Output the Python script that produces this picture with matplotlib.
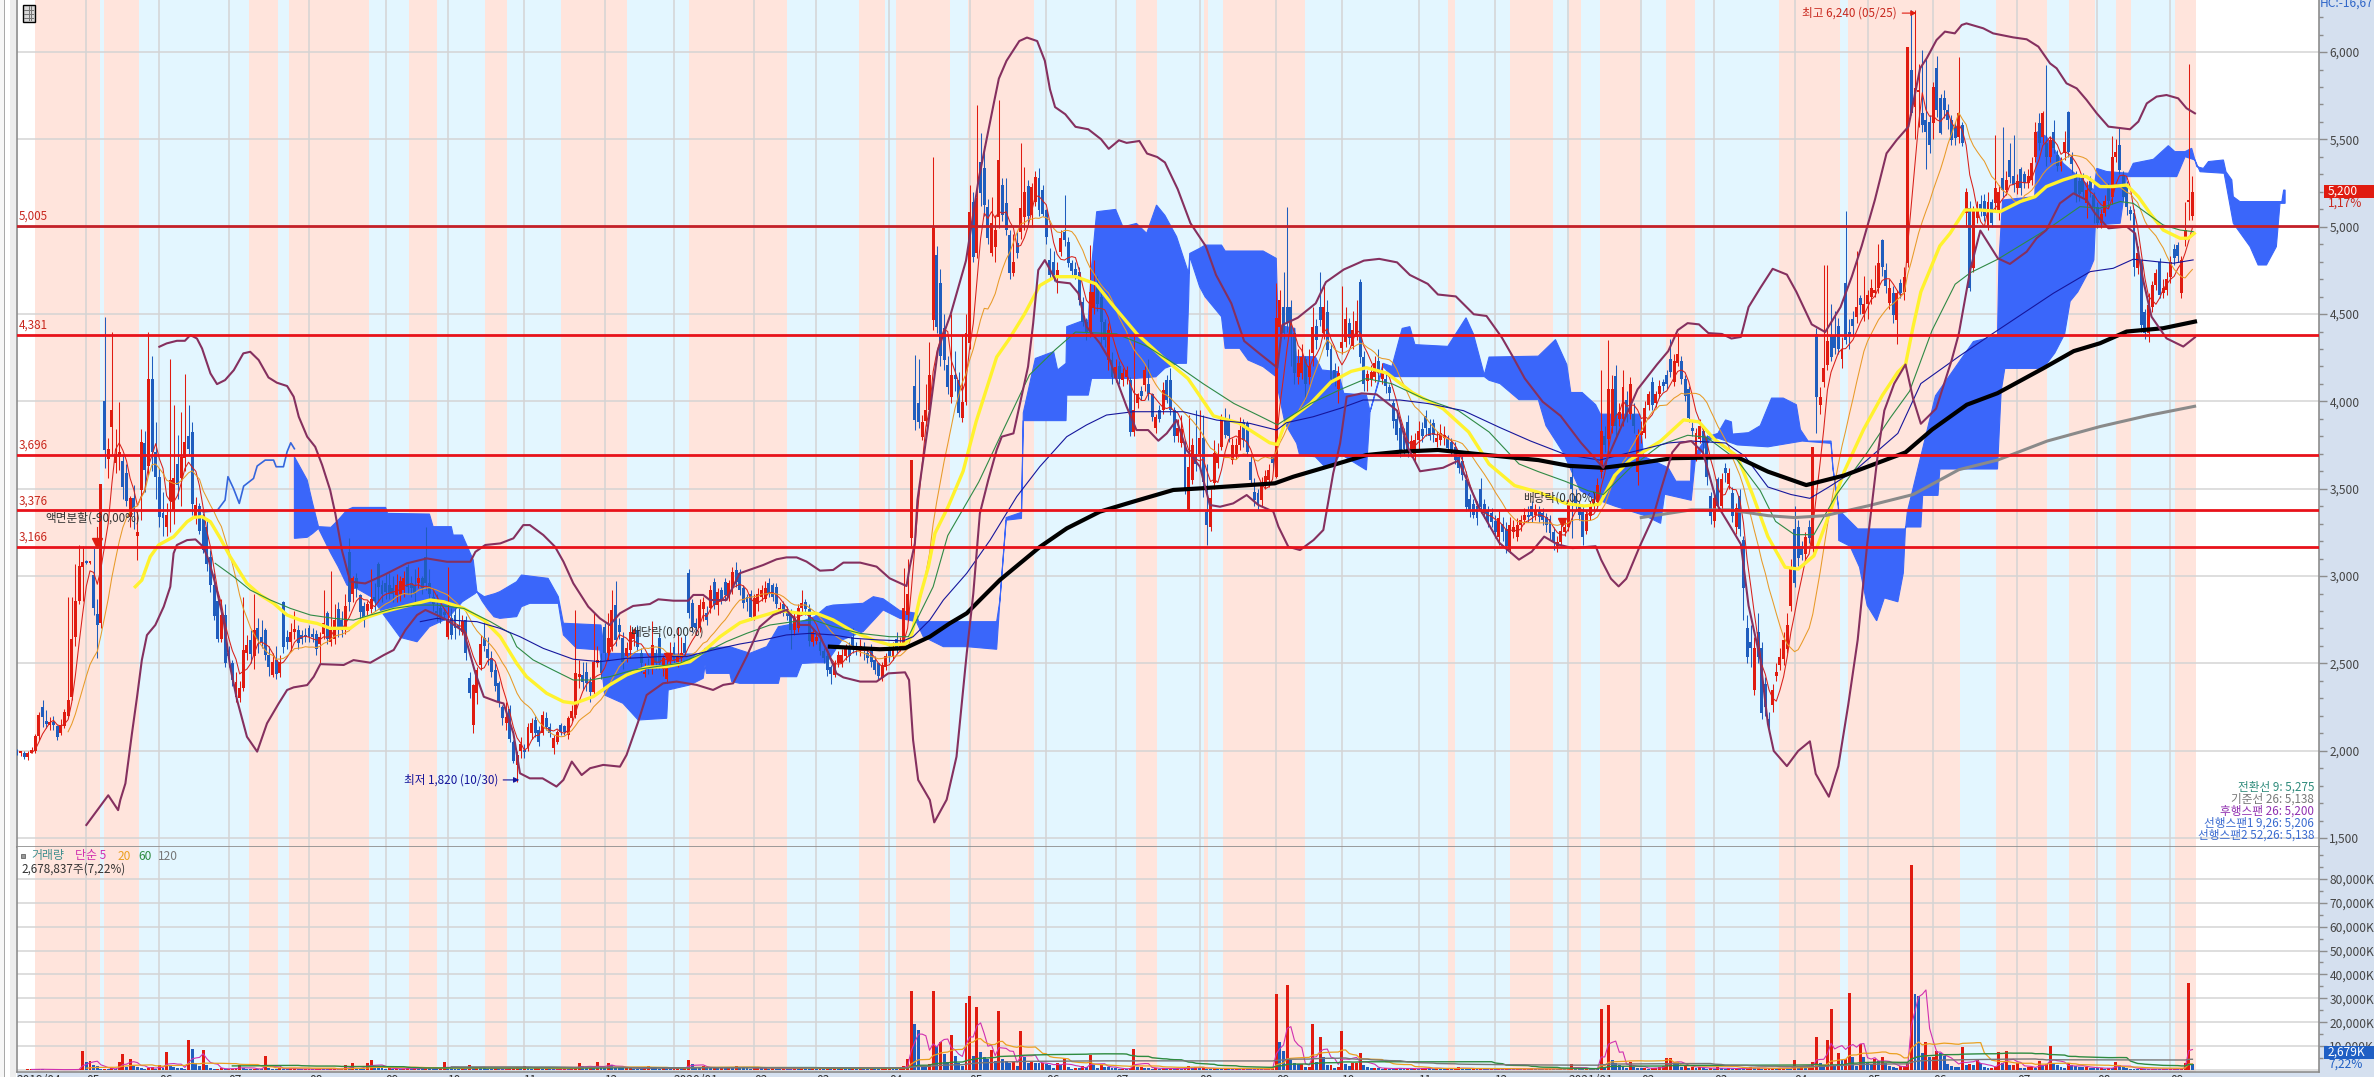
import numpy as np
import matplotlib
matplotlib.use("Agg")
import matplotlib.pyplot as plt
from matplotlib.patches import Rectangle

plt.rcParams['font.family'] = ['Noto Sans CJK KR', 'DejaVu Sans']

# ---- candles (open, close, high, low) per month
apr19 = [(2000,1985,2010,1975),(1985,1990,2000,1970),(1990,1965,2000,1950),(1965,1990,2000,1945),(1990,2005,2020,1985),
(2000,2085,2095,1990),(2085,2205,2220,2060),(2250,2195,2290,2135),(2170,2155,2235,2130),(2150,2165,2195,2120),
(2165,2150,2200,2120),(2140,2080,2150,2060),(2100,2150,2180,2090),(2140,2220,2240,2130),(2200,2290,2880,2190),
(2310,2640,2880,2290),(2650,2860,3070,2600),(2860,3060,3180,2840),(3050,3080,3170,2860)]
may19 = [(3080,3075,3090,3070),(3075,3075,3085,3070),(3005,2815,3160,2780),(2785,2720,2870,2530),(2730,3530,3530,2700),
(4000,3720,4485,3620),(3670,3730,3790,3560),(3855,3950,4395,3700),(3650,3700,3840,3590),(3680,3710,3995,3610),
(3660,3510,3690,3440),(3590,3430,3640,3400),(3340,3445,3460,3280),(3445,3380,3520,3270),(3230,3250,3380,3090),
(3490,3770,3840,3320),(3760,3610,3830,3480),(3630,4130,4395,3580),(4130,3710,4260,3600),(3710,3570,3880,3440)]
jun19 = [(3570,3340,3620,3280),(3360,3330,3480,3230),(3280,3350,3420,3230),(3430,3550,4245,3250),(3380,3560,3980,3300),
(3640,3520,3810,3440),(3560,3680,3940,3400),(3675,3770,4155,3600),(3800,3730,3980,3700),(3825,3415,3880,3350),
(3330,3405,3450,3300),(3400,3260,3420,3240),(3340,3150,3360,3130),(3280,3070,3330,3030),(3110,2950,3150,2910),
(2950,2770,3020,2750),(2860,2640,2900,2620),(2640,2780,2870,2620),(2780,2500,2840,2480)]
jul19 = [(2560,2540,2600,2480),(2500,2405,2520,2370),(2310,2395,2450,2280),(2300,2360,2400,2280),(2360,2575,2880,2340),
(2560,2605,2660,2520),(2635,2555,2690,2500),(2545,2690,2900,2470),(2700,2640,2760,2560),(2650,2620,2750,2590),
(2690,2550,2700,2520),(2550,2480,2600,2430),(2435,2510,2560,2420),(2520,2440,2600,2410),(2445,2510,2550,2420),
(2850,2595,2860,2560),(2650,2620,2690,2580),(2625,2680,2730,2570),(2680,2695,2800,2640),(2690,2615,2720,2580),
(2660,2640,2690,2610),(2660,2650,2700,2620)]
aug19 = [(2700,2650,2720,2620),(2670,2650,2700,2620),(2670,2580,2690,2550),(2610,2650,2680,2500),(2670,2730,2920,2640),
(2790,2640,2800,2610),(2620,2690,3030,2600),(2640,2750,2840,2610),(2810,2690,2850,2650),(2750,2690,2800,2650),
(2700,2830,2900,2670),(3140,2850,3220,2800),(2900,2990,3000,2850),(2990,2930,3020,2880),(2890,2795,2900,2740),
(2830,2760,2850,2710),(2800,2840,2860,2770),(2810,2870,3040,2790),(2880,2860,2960,2800),(3070,2940,3080,2850),
(2950,2900,2980,2850)]
sep19 = [(2960,2910,3010,2870),(2950,2900,3020,2870),(2930,2900,3000,2850),(2890,2950,3010,2850),(2900,2970,3000,2860),
(2920,2990,3030,2880),(3050,2940,3070,2900),(2960,2930,3000,2880),(2950,2900,3040,2850),(2960,2990,3050,2930),
(2990,2930,3000,2900),(3110,2960,3280,2920),(2960,2900,3040,2860),(2880,2840,2930,2800),(2800,2790,2900,2740),
(2815,2760,2840,2730),(2790,2780,2820,2750)]
oct19 = [(2650,2750,3050,2640),(2760,2660,2820,2640),(2780,2700,2820,2640),(2720,2700,2830,2660),(2680,2740,2780,2660),
(2750,2560,2770,2520),(2415,2330,2450,2300),(2150,2375,2380,2100),(2330,2460,2480,2270),(2490,2610,2660,2460),
(2645,2600,2740,2570),(2580,2530,2650,2490),(2530,2450,2570,2420),(2460,2370,2500,2340),(2390,2280,2400,2250),
(2250,2190,2260,2150),(2160,2195,2280,2120),(2240,2070,2260,2050),(2050,1940,2060,1930),(1920,1975,2000,1820),
(2000,2040,2080,1960)]
nov19 = [(2005,1995,2040,1960),(2014,2138,2160,2000),(2100,2157,2190,2070),(2176,2100,2200,2080),(2119,2052,2140,2030),
(2100,2205,2230,2090),(2186,2138,2220,2120),(2138,2100,2160,2080),(2014,2071,2090,1980),(2052,2110,2120,2040),
(2147,2110,2160,2090),(2140,2110,2150,2090),(2090,2186,2200,2070),(2190,2230,2260,2170),(2205,2443,2806,2190),
(2420,2440,2520,2360),(2434,2396,2510,2350),(2453,2386,2510,2340),(2396,2338,2420,2280),(2338,2510,2790,2320),
(2500,2520,2600,2480),(2520,2443,2560,2410)]
dec19 = [(2710,2558,2730,2520),(2558,2644,2790,2520),(2596,2806,2920,2570),(2835,2634,2970,2600),(2720,2682,2760,2640),
(2644,2510,2680,2470),(2540,2590,2620,2510),(2576,2682,2720,2530),(2640,2690,2700,2600),(2690,2596,2720,2570),
(2558,2500,2590,2450),(2440,2450,2500,2420),(2490,2480,2530,2440),(2480,2606,2740,2440),(2558,2500,2580,2470),
(2644,2500,2670,2470),(2470,2530,2550,2430),(2410,2480,2560,2390),(2520,2560,2620,2480)]
jan20 = [(2596,2520,2620,2490),(2510,2540,2710,2480),(2530,2560,2650,2510),(2615,2558,2660,2540),(3016,2787,3040,2760),
(2844,2710,2870,2680),(2730,2700,2760,2660),(2700,2834,2870,2680),(2810,2850,2880,2740),(2790,2750,2830,2720),
(2815,2920,2950,2790),(2968,2835,2990,2810),(2835,2911,2930,2780),(2920,2870,2940,2840),(2968,2892,2990,2860),
(2880,2960,2980,2860),(2930,3025,3050,2900),(3035,2968,3080,2940),(3016,2920,3040,2890),(2930,2844,2950,2820),
(2880,2850,2900,2800),(2900,2767,2920,2750)]
feb20 = [(2767,2873,2900,2750),(2840,2900,2930,2800),(2880,2920,2950,2860),(2870,2930,2970,2850),(2960,2900,2990,2880),
(2950,2880,2960,2860),(2940,2840,2960,2820),(2800,2815,2850,2790),(2840,2790,2860,2770),(2800,2770,2830,2750),
(2790,2690,2810,2580),(2690,2760,2790,2660),(2700,2815,2840,2680),(2815,2845,2920,2790),(2850,2810,2870,2780),
(2810,2630,2840,2600),(2625,2680,2700,2600)]
mar20 = [(2630,2650,2680,2610),(2620,2570,2640,2550),(2570,2530,2590,2500),(2540,2460,2560,2430),(2480,2440,2490,2380),
(2434,2500,2520,2420),(2500,2550,2570,2480),(2500,2548,2580,2480),(2540,2590,2610,2520),(2600,2540,2620,2510),
(2653,2586,2700,2560),(2600,2580,2620,2550),(2570,2600,2640,2540),(2590,2570,2620,2520),(2560,2530,2590,2500),
(2596,2510,2610,2480),(2520,2460,2540,2440),(2500,2430,2510,2410),(2415,2490,2510,2400),(2480,2540,2560,2460)]
apr20 = [(2580,2540,2600,2510),(2540,2590,2620,2520),(2640,2586,2680,2560),(2590,2610,2650,2570),(2596,2815,3044,2580),
(2780,2900,3100,2740),(3216,3665,3665,3170),(4088,3893,4265,3836),(3990,3880,4245,3850),(3794,3884,3920,3780),
(3890,3950,4100,3860),(3950,4151,4340,3930),(4466,4990,5397,4408),(4838,4428,4890,4390),(4680,4260,4760,4200),
(4418,4237,4500,4180),(4208,4084,4260,4040),(4027,4151,4500,3990),(4150,4130,4290,4060),(4122,3932,4170,3910),
(3903,3998,4380,3880),(3998,4389,4500,3980)]
may20 = [(4332,5086,5238,4300),(5143,4828,5200,4800),(4847,5162,5696,4820),(5372,5191,5534,5120),(5334,5124,5460,5060),
(5114,4933,5160,4900),(4847,5019,5170,4830),(4885,4980,5070,4800),(5057,5382,5725,4990),(5239,5067,5280,5030),
(5133,4981,5280,4950),(4952,4733,4980,4700),(4733,4800,4960,4720),(4905,4847,4970,4820),(4971,5105,5477,4930),
(5057,5200,5340,4980),(5235,5060,5270,5010),(5067,5229,5250,5000),(5143,5286,5320,5120),(5277,5095,5335,5060),
(5210,5075,5240,5060)]
jun20 = [(5095,4943,5100,4900),(4809,4723,4880,4700),(4800,4715,4860,4690),(4714,4752,4800,4620),(4857,4933,4980,4830),
(4971,4924,5180,4890),(4914,4790,4940,4770),(4790,4745,4810,4720),(4760,4725,4800,4700),(4742,4580,4770,4550),
(4571,4456,4600,4430),(4456,4390,4480,4350),(4399,4628,4895,4370),(4533,4628,4810,4500),(4675,4560,4720,4520),
(4600,4456,4640,4330),(4456,4350,4470,4310),(4237,4408,4450,4180),(4237,4140,4280,4100)]
jul20 = [(4132,4199,4240,4110),(4200,4130,4230,4100),(4120,4160,4190,4090),(4140,4180,4200,4100),(4122,3827,4140,3800),
(3827,3950,4400,3800),(3990,4040,4050,3960),(4060,4030,4090,4010),(4093,4180,4200,4060),(4100,4040,4240,4010),
(4040,3910,4050,3890),(3846,3912,3930,3820),(3950,3900,3980,3880),(3950,4065,4110,3930),(4120,4010,4150,3990),
(4122,3950,4190,3920),(3950,3800,3970,3770),(3800,3850,3900,3770),(3760,3840,3920,3740),(3769,3493,3780,3470),
(3378,3626,3920,3370),(3550,3750,3790,3530),(3700,3640,3950,3600)]
aug20 = [(3700,3790,3950,3620),(3790,3540,3920,3450),(3369,3292,3640,3180),(3280,3445,3500,3260),(3531,3703,3780,3500),
(3650,3700,3760,3620),(3741,3903,3930,3720),(3903,3807,3960,3790),(3900,3800,3930,3770),(3664,3750,3790,3640),
(3700,3750,3790,3670),(3750,3836,3910,3720),(3880,3780,3900,3740),(3874,3712,3890,3690),(3655,3550,3700,3520),
(3483,3435,3560,3400),(3475,3410,3500,3380),(3435,3531,3570,3400),(3530,3575,3610,3500),(3550,3607,3640,3510),
(3680,3650,3700,3610)]
sep20 = [(3569,4475,4680,3560),(4428,4580,4640,4380),(4542,4389,4740,4360),(4540,4450,5114,4400),(4540,4380,4580,4200),
(4390,4160,4420,4100),(4140,4220,4300,4100),(4160,4256,4330,4130),(4240,4100,4260,4010),(4140,4200,4300,4100),
(4275,4428,4540,4200),(4430,4350,4470,4300),(4542,4466,4740,4430),(4389,4542,4660,4360),(4513,4294,4580,4260),
(4300,4130,4330,4100),(4180,4120,4220,4090),(4070,4160,4200,3990)]
oct20 = [(4304,4342,4660,4270),(4340,4470,4540,4310),(4447,4361,4480,4330),(4320,4410,4520,4300),(4370,4460,4580,4350),
(4685,4256,4700,4220),(4256,4100,4290,4060),(4115,4155,4180,4060),(4120,4170,4210,4090),(4140,4220,4260,4110),
(4230,4160,4300,4130),(4130,4170,4220,4100),(4130,4090,4160,4050),(4080,4050,4100,4010),(3990,3885,4010,3850),
(3900,3810,3940,3780),(3845,3722,3900,3680),(3800,3730,3850,3700),(3880,3722,3920,3680),(3720,3775,3810,3680),
(3700,3780,3820,3660)]
nov20 = [(3780,3830,3890,3730),(3840,3800,3880,3770),(3915,3845,3950,3800),(3850,3800,3900,3780),(3875,3805,3900,3770),
(3770,3790,3830,3740),(3780,3820,3870,3750),(3790,3810,3860,3750),(3785,3735,3810,3710),(3770,3720,3790,3690),
(3740,3665,3770,3640),(3680,3620,3700,3590),(3660,3580,3690,3550),(3550,3395,3600,3370),(3440,3380,3470,3340),
(3410,3350,3440,3330),(3400,3330,3430,3290),(3500,3395,3560,3360),(3410,3360,3440,3330),(3370,3310,3400,3280),
(3360,3310,3390,3280)]
dec20 = [(3314,3252,3350,3220),(3226,3335,3380,3180),(3300,3250,3340,3200),(3270,3171,3310,3130),(3149,3291,3340,3130),
(3250,3280,3320,3220),(3226,3291,3330,3200),(3290,3320,3350,3260),(3320,3350,3390,3300),(3350,3340,3400,3310),
(3400,3345,3430,3310),(3350,3380,3410,3320),(3370,3340,3400,3310),(3360,3320,3390,3290),(3340,3290,3360,3250),
(3324,3248,3350,3210),(3250,3195,3280,3150),(3171,3193,3230,3140),(3193,3258,3290,3170),(3250,3280,3320,3230)]
jan21 = [(3280,3412,3440,3260),(3565,3500,3640,3220),(3456,3401,3500,3370),(3400,3350,3430,3320),(3368,3226,3400,3180),
(3258,3357,3380,3240),(3346,3401,3430,3320),(3400,3440,3480,3380),(3423,3521,3560,3400),(3598,3828,4178,3560),
(3800,3750,3860,3710),(3784,4069,4354,3700),(3860,4069,4150,3820),(4146,3861,4210,3790),(3900,3940,3990,3860),
(3900,4080,4180,3860),(4010,3910,4060,3880),(3927,4102,4140,3900),(3930,3860,3990,3820),(3598,3806,3840,3520)]
feb21 = [(3806,3830,3890,3760),(3817,3960,4000,3790),(3980,4040,4060,3950),(4113,3981,4140,3950),(3990,4040,4060,3970),
(4040,4090,4120,4020),(4110,4090,4130,4060),(4150,4100,4180,4070),(4244,4167,4360,4140),(4113,4233,4270,4090),
(4220,4270,4390,4200),(4230,4130,4260,4100),(4130,4030,4150,4000),(4069,3905,4090,3880),(3850,3830,3880,3800),
(3686,3817,3850,3660),(3784,3861,3900,3760),(3830,3760,3860,3700),(3795,3565,3810,3520),(3456,3346,3480,3300)]
mar21 = [(3313,3445,3490,3280),(3554,3401,3570,3370),(3401,3554,3590,3380),(3620,3590,3650,3540),(3530,3590,3620,3500),
(3478,3346,3510,3310),(3281,3390,3420,3240),(3456,3270,3500,3230),(3204,2930,3230,2750),(2700,2536,2780,2500),
(2620,2590,2720,2480),(2350,2591,2650,2320),(2678,2536,2790,2500),(2591,2218,2620,2180),(2383,2251,2420,2200),
(2180,2150,2220,2100),(2262,2350,2380,2220),(2430,2450,2500,2400),(2492,2536,2590,2460),(2525,2635,2680,2490),
(2580,2722,2790,2560),(2831,3051,3100,2800)]
apr21 = [(3270,2963,3401,2940),(3281,3105,3320,3060),(3170,3120,3200,3090),(3127,3226,3250,3100),(3280,3220,3320,3190),
(3171,3740,3740,3140),(4386,4025,4420,3820),(3980,4025,4080,3930),(4110,4190,4780,4080),(4211,4343,4781,4180),
(4375,4255,4560,4230),(4380,4304,4520,4270),(4430,4300,4480,4270),(4240,4300,4370,4190),(4676,4352,5092,4330),
(4400,4380,4470,4300),(4470,4430,4520,4380),(4485,4543,4860,4450),(4590,4550,4610,4500),(4500,4560,4720,4460)]
may21 = [(4560,4610,4640,4470),(4600,4650,4700,4560),(4620,4640,4780,4600),(4648,4791,4900,4620),(4924,4771,4930,4720),
(4750,4660,4790,4620),(4562,4648,4700,4530),(4619,4495,4660,4450),(4466,4619,4640,4330),(4676,4619,4700,4590),
(4629,4714,4770,4580),(4791,6031,6031,4770),(5899,5649,6240,5640),(5687,5792,6240,5500),(5770,5780,5930,5570),
(5649,5582,6010,5540),(5610,5540,5960,5330),(5602,5468,5640,5420)]
jun21 = [(5592,5802,5830,5500),(5907,5668,5975,5630),(5735,5535,5760,5530),(5735,5670,5780,5620),(5670,5610,5700,5560),
(5611,5497,5640,5470),(5570,5510,5600,5470),(5516,5649,5974,5480),(5582,5478,5600,5460),(5077,5201,5220,5000),
(5106,4648,5150,4630),(4762,5096,5120,4740),(5050,5100,5150,5020),(5130,5100,5180,5060),(5145,5060,5190,5030),
(5000,5144,5200,4980),(5144,5020,5160,5000),(5134,5220,5525,5090),(5077,5201,5240,5040),(5277,5210,5570,5170),
(5210,5270,5320,5180),(5382,5287,5480,5250),(5290,5240,5525,5200)]
jul21 = [(5220,5260,5300,5190),(5330,5220,5340,5180),(5300,5250,5320,5220),(5250,5290,5330,5220),(5268,5363,5400,5240),
(5401,5544,5600,5370),(5592,5477,5650,5440),(5516,5649,5660,5480),(5480,5400,5926,5350),(5401,5497,5520,5370),
(5545,5450,5610,5420),(5410,5345,5440,5320),(5350,5380,5400,5320),(5420,5487,5550,5380),(5659,5430,5665,5400),
(5400,5360,5430,5310),(5290,5190,5320,5140),(5260,5190,5290,5150),(5280,5200,5310,5170),(5134,5210,5260,5050),
(5260,5210,5290,5170),(5180,5115,5200,5020)]
aug21 = [(5115,5020,5140,4990),(5020,5075,5100,4990),(5080,5150,5180,5060),(5230,5150,5250,5110),(5172,5401,5520,5130),
(5400,5430,5500,5370),(5468,5325,5573,5300),(5296,5172,5320,5150),(5230,5115,5260,5070),(5095,5075,5120,5040),
(5077,4772,5100,4720),(4762,4848,4890,4730),(4790,4438,4810,4400),(4510,4390,4530,4360),(4390,4552,4620,4340),
(4543,4667,4690,4510),(4667,4733,4760,4640),(4800,4610,4820,4590),(4620,4650,4700,4590),(4640,4700,4740,4610)]
sep21 = [(4714,4800,4830,4680),(4875,4820,4900,4780),(4895,4830,4910,4800),(4619,4810,4830,4590),(4924,4982,5144,4890),
(5140,5150,5934,5040),(5062,5200,5290,5040)]

# ---- volume (thousand shares), ten sessions per row
volume_k = [
200,150,150,250,400,350,300,250,200,200,
200,150,150,150,200,200,250,300,7900,3200,
3600,2080,1670,300,500,400,700,300,3330,6670,
1200,4580,1600,1400,700,600,700,1400,600,2080,
700,7360,2300,1100,800,700,500,12500,8750,2780,
1800,8330,2080,800,400,500,700,400,500,600,
700,2080,700,500,400,500,400,350,5830,700,
500,450,900,500,400,600,700,300,250,500,
500,300,450,600,500,300,400,550,300,500,
2080,800,2780,900,700,500,3050,4170,1400,1100,
800,500,700,400,550,450,600,700,500,900,
600,450,1100,700,500,400,600,3200,900,700,
500,450,600,400,2080,800,1300,900,700,600,
500,700,450,400,600,800,1000,1300,900,1500,
800,600,700,900,500,600,500,400,450,600,
700,400,500,1200,3000,1500,900,1100,700,3500,
1200,900,2800,2000,1400,800,700,900,1100,600,
500,450,600,1500,900,700,500,800,600,500,
700,900,800,1200,4200,2500,1400,1000,1600,900,
700,1100,800,1200,900,1000,700,1500,1300,900,
800,600,800,1100,700,900,600,800,500,450,
600,500,400,900,700,1200,800,600,900,500,
700,600,800,500,1000,700,900,600,500,800,
500,700,600,400,900,800,500,600,700,1100,
900,700,800,1500,4580,32900,19440,16660,1500,1200,
2500,32900,10000,11800,6660,3470,14580,5830,2780,1670,
28050,30830,5830,26250,7640,5550,4580,8330,3890,24580,
4720,3750,2780,3200,1670,16250,5550,3060,3200,3060,
2780,2780,2500,2220,1000,3060,2080,4440,1390,400,
1000,800,1670,1200,6390,2220,1000,2080,1390,1100,
800,700,300,500,300,1000,8750,1390,1390,1000,
830,600,700,500,800,500,700,400,600,500,
700,1500,800,1100,700,900,600,500,800,600,
500,700,400,300,500,400,600,500,400,300,
500,300,400,600,700,31670,11670,7780,35420,4170,
2780,2360,2360,1390,1390,19170,3470,13750,5280,2220,
2220,700,1390,16250,2360,1670,3060,3060,6940,2220,
1100,830,1000,700,500,800,600,500,900,700,
500,700,400,600,500,800,1000,700,500,900,
600,500,700,400,800,1200,700,500,400,600,
500,700,400,300,500,400,600,300,500,400,
300,600,400,500,300,700,500,400,300,500,
600,400,300,500,400,700,2500,800,500,400,
600,500,400,300,25400,800,27080,4170,3060,2080,
1500,1000,3470,1100,800,700,900,600,800,1000,
1100,1500,4860,4860,3060,2780,1390,1800,1000,1400,
800,1200,700,500,900,600,1100,700,400,800,
500,700,600,400,900,1300,700,800,500,600,
700,900,600,800,1000,700,600,4170,1000,1670,
1100,1300,3200,13750,2780,1390,12500,25400,2080,6940,
4170,4440,32400,5280,1500,10800,5280,2780,2500,4440,
3860,5280,2780,1670,1100,700,1670,1670,2780,85800,
31900,31000,6940,11900,5280,5280,7900,7220,5830,2500,
1670,1390,1100,9580,2080,2500,2080,4170,2780,1100,
700,700,1100,7500,2780,7900,2080,2080,2780,1000,
800,1390,1390,700,3750,2080,2500,10000,2780,2080,
1100,700,2780,2200,1500,1400,1200,1300,900,800,
700,800,600,900,700,3200,2000,1400,900,600,
500,300,500,400,300,500,400,300,600,350,
400,500,300,500,2780,36500,2679]

# ---- indicator lines as (session, price)
bb_upper = [(39,4313),(41,4332),(43.8,4347),(46,4347),(47.5,4380),(49.3,4360),(50.7,4303),(53,4160),(54.8,4099),(57,4122),(59.4,4179),(62,4275),(63.9,4284),(66.2,4237),(68.9,4137),(71.2,4107),(74,4088),(75.8,4027),(77.2,3912),(79.5,3798),(81.7,3740),(83.6,3636),(85.8,3492),(87.2,3359),(89,3149),(91.3,2968),(95.4,2958),(100.5,3006),(106.8,3073),(112.3,3101),(117.8,3082),(124.2,3082),(125.6,3139),(128.3,3178),(132.4,3187),(136,3216),(138.7,3292),(140.5,3292),(144.2,3235),(147.4,3168),(149.7,3083),(152.4,2959),(156.5,2825),(159.7,2758),(162.4,2720),(165.2,2787),(168.8,2829),(173.4,2840),(175.7,2867),(179.8,2859),(183.9,2859),(185.3,2892),(188,2892),(189.8,2863),(194.4,2863),(198,3016),(204.4,3063),(208.1,3096),(210.8,3107),(213.6,3107),(216.3,3083),(220,3031),(223.6,3035),(226.4,3077),(231,3077),(235.5,3054),(239.1,2987),(243.7,2943),(244.6,3054),(246,3188),
(246.7,3436),(249.5,3845),(252.3,4295),(255.8,4499),(260,4806),(263.5,5276),(267.6,5705),(269,5848),(271.1,5950),(274.6,6063),(276.7,6083),(279.5,6063),(281.6,5950),(283,5787),(284.4,5685),(287.2,5644),(290,5572),(293.5,5558),(297,5501),(299.1,5446),(301.9,5495),(304,5480),(307.5,5491),(309.6,5419),(312.4,5399),(314.5,5368),(318,5215),(321.5,5020),(325.7,4888),(328.5,4724),(332.7,4561),(336.2,4346),(340.4,4274),(345.3,4193),(346.7,4438),(350.9,4479),(355.8,4561),(358.6,4683),(363.5,4755),(369,4806),(373.2,4816),(378.1,4796),(381.6,4724),(386.5,4673),(389.3,4612),(394.2,4601),(399.1,4499),(402.6,4489),(406.8,4366),(409.6,4264),(413.1,4131),(418,3998),(422.9,3917),(428.5,3763),(434.6,3620),(444,4069),(449.3,4211),(452.4,4288),(455,4408),(457.7,4448),(460.8,4441),(463.4,4391),(467.1,4386),(469.7,4360),(472.3,4369),(474.4,4540),(477.6,4649),(481,4759),(484.9,4726),(487.5,4627),(491.7,4441),(495.4,4397),(499.6,4540),(502.7,4715),(505.4,4890),(509,5153),(512.2,5420),(515,5497),(518.2,5573),(521.4,5907),(523.2,5964),(525.9,6069),(528.2,6117),(530.9,6107),(532.8,6155),(534.1,6164),(538.7,6136),(541.4,6107),(546.9,6084),(550.6,6073),(553.8,6031),(557,5935),(558.8,5907),(561.5,5821),(564.3,5792),(567,5726),(569.8,5649),(573,5573),(578.9,5558),(581.2,5602),(583.5,5706),(586.2,5745),(588.9,5754),(592.1,5735),(594.4,5678),(596.7,5649)]
bb_lower = [(19,1575),(22,1660),(25,1745),(27.7,1660),(28.3,1718),(29.7,1813),(31.5,2100),(32.9,2310),(34.2,2519),(35.6,2662),(37.9,2720),(40.2,2825),(42,2939),(42.9,3130),(43.8,3178),(46.6,3206),(48.9,3210),(51,3168),(52.5,3092),(54.3,2958),(56.6,2748),(58.4,2481),(60.3,2290),(63,2080),(65.8,1995),(68.5,2157),(71.7,2271),(74,2348),(75.8,2363),(79.5,2376),(81.3,2424),(83.1,2496),(89.5,2491),(92.2,2519),(96.8,2504),(100.5,2548),(103.2,2577),(106.4,2691),(109.6,2777),(111.9,2806),(115,2777),(117.8,2748),(122.4,2682),(125.6,2443),(127.9,2309),(131.5,2281),(133.3,2271),(136,2100),(137.8,1871),(140.5,1842),(144,1842),(147.8,1795),(149.7,1833),(152,1938),(154.7,1861),(157,1900),(160.6,1919),(165.2,1909),(167,1976),(170.2,2167),(172.5,2319),(177,2386),(180.7,2396),(186.2,2377),(190.7,2348),(193.5,2377),(196.2,2386),(199.9,2539),(203.5,2710),(207.2,2777),(210.8,2806),(214.5,2720),(217.2,2720),(220,2653),(222.3,2558),(224.5,2443),(226.4,2420),(231,2396),(235.5,2396),(238.7,2443),(243.3,2449),(244.4,2405),(245.5,2062),(246.9,1833),(250.1,1718),(251.3,1590),(254.7,1720),(257.4,1966),(260.2,2558),(262,2900),(263.8,3359),(266.1,3550),(268.4,3722),(269.8,3798),(273,3817),(274.8,3989),(277,4199),(278.4,4447),(279.8,4752),(281.6,4809),(284.8,4685),(288.5,4676),(290.8,4618),(293,4428),(296.7,4332),(299.4,4237),(301.3,4122),(304,3970),(306.7,3836),(309.9,3836),(312.7,3775),(315,3817),(317.7,3893),(320.4,3722),(324.1,3626),(326.8,3407),(329.6,3397),(333.2,3416),(336.9,3464),(340.1,3407),(344.2,3369),(345.6,3283),(348.3,3168),(351.5,3149),(355.2,3206),(357.9,3264),(360.6,3588),(362.5,3760),(364.3,4027),(368.4,4046),(372.5,4040),(378.1,3947),(380.9,3743),(384.4,3600),(390.7,3620),(394.9,3661),(400.5,3395),(406.1,3191),(411.5,3094),(415,3140),(418.4,3226),(422,3182),(426.2,3160),(432.5,3171),(434,3094),(436.7,2985),(438.8,2941),(440.9,2985),(444.6,3171),(448.2,3335),(450.3,3489),(453.5,3708),(455.6,3762),(458.7,3773),(461.9,3708),(466,3401),(469.2,3291),(472.3,3182),(474.4,2831),(477.6,2525),(479.7,2153),(481.3,1999),(484.9,1912),(488,1999),(491.2,2054),(492.8,1868),(496.4,1737),(499,1912),(501.7,2262),(504.3,2635),(506.9,3182),(510,3730),(511.6,3948),(514.3,4102),(517.4,4211),(519.5,4014),(521.6,3872),(525.8,3959),(530,4233),(532,4387),(535.2,4759),(537.9,4978),(542.7,4819),(546,4787),(550.6,4857),(553.3,4934),(556,4981),(559.7,5134),(563.4,5191),(567,5153),(569.3,5077),(573,4991),(578,5001),(580.3,4962),(582.5,4695),(584.8,4485),(588.9,4361),(593.5,4314),(596.7,4367)]
ma_yellow = [(32.4,2939),(34.2,2977),(36.5,3111),(38.8,3178),(42.9,3225),(46.6,3311),(48.4,3336),(50.7,3340),(53,3311),(55.7,3216),(58.4,3111),(63,2958),(66.7,2891),(70.3,2844),(74,2777),(77.6,2748),(82.2,2729),(85.8,2701),(91.3,2701),(95,2758),(100.5,2796),(105.9,2825),(113.2,2863),(116.9,2853),(122.4,2815),(127.9,2748),(132.4,2653),(136.9,2500),(139.6,2424),(145.1,2329),(149.7,2281),(152.8,2272),(157.9,2310),(162.4,2377),(167,2434),(172.5,2478),(178,2482),(184.4,2510),(188,2567),(192.6,2653),(198.1,2733),(203.5,2768),(209,2802),(214.5,2787),(219,2787),(223.6,2749),(229.1,2682),(234.6,2634),(239.1,2606),(243.3,2611),(245,2653),(247.4,2882),(249.7,3054),(251.5,3245),(255.1,3397),(259.2,3600),(262.8,3886),(268.4,4254),(271.8,4356),(276,4499),(280.2,4663),(284.4,4714),(290,4714),(295.6,4673),(299.8,4561),(306.8,4387),(313.8,4254),(320.8,4131),(327.8,3917),(334.8,3876),(343.2,3763),(345.3,3753),(347.4,3876),(354.4,3988),(360,4111),(365.5,4172),(369.7,4193),(375.3,4162),(382.3,4050),(390.7,3958),(397.7,3825),(403.3,3641),(410.3,3518),(417.3,3477),(424.3,3416),(429.4,3401),(433.6,3412),(437.7,3576),(441.9,3664),(450.3,3773),(456.6,3894),(460.8,3883),(465,3784),(471.3,3686),(475.5,3467),(479.7,3226),(484.4,3051),(488,3040),(492.3,3116),(495.4,3291),(500.6,3598),(505.9,3839),(511.1,4036),(515.3,4168),(517.4,4211),(519.5,4430),(521.6,4627),(526.8,4890),(529.6,4962),(533.7,5096),(537.8,5096),(543.3,5086),(548.8,5144),(552.9,5172),(556,5230),(560.6,5268),(564.3,5292),(567,5287),(570.7,5230),(574.3,5230),(578,5239),(581.2,5172),(584.4,5077),(588,4981),(592.6,4934),(594.9,4934),(596.5,4962)]
ma_green = [(54.3,3073),(59.4,2996),(63.9,2920),(69.4,2863),(74.9,2815),(80.4,2777),(86.8,2758),(92.2,2748),(96.8,2777),(103.2,2815),(109.6,2834),(115,2834),(122.4,2815),(129.7,2739),(135.2,2672),(136.9,2596),(141.4,2520),(146.9,2462),(152.4,2405),(157,2405),(162.4,2424),(168.8,2462),(175.2,2482),(181.6,2501),(188.9,2567),(194.4,2625),(199.9,2672),(206.3,2720),(212.7,2739),(218.1,2749),(223.6,2711),(231,2672),(239.1,2653),(244.2,2653),(246.5,2749),(251,2939),(255,3232),(263.5,3539),(270.4,3845),(277.4,4152),(284.4,4295),(290,4397),(301.2,4387),(309.6,4315),(317.3,4213),(325,4101),(333.4,3988),(340.4,3917),(345.3,3866),(354.4,3988),(362.8,4070),(369.7,4131),(376.7,4101),(385.1,4019),(394.9,3947),(403.3,3825),(411.5,3642),(416.8,3598),(424.1,3543),(430.4,3489),(434.6,3467),(442,3620),(450.3,3751),(457.7,3806),(462.9,3795),(471.3,3664),(477.6,3489),(481.8,3313),(487,3237),(492.3,3237),(498.5,3467),(506.9,3708),(513.2,3905),(518.5,4058),(524.7,4408),(531,4671),(535.2,4737),(542.6,4813),(557.2,4999),(565.2,5115),(570.7,5106),(576.2,5144),(579.8,5134),(583.5,5077),(588,5010),(592.6,4981),(596.2,4972)]
ma_navy = [(110.5,2739),(115,2758),(118.7,2748),(126,2739),(132.3,2701),(137.8,2653),(144.2,2586),(152.4,2524),(159.7,2510),(167,2529),(176.1,2539),(183.4,2539),(190.7,2577),(198,2611),(204.4,2634),(210.8,2663),(217.2,2672),(223.6,2663),(229.1,2644),(236.4,2634),(242.8,2629),(245.5,2653),(250.1,2749),(253.8,2863),(260.2,3016),(266.6,3206),(273.9,3455),(280.2,3626),(287.6,3798),(293,3865),(298.5,3922),(305.8,3941),(313.1,3941),(319.5,3941),(328.7,3893),(337.8,3874),(345.1,3836),(347.8,3878),(355.1,3912),(362.5,3960),(368.8,4008),(378.9,4008),(386.5,3988),(396.3,3947),(406.3,3850),(414.7,3773),(424.1,3697),(433.6,3664),(442,3708),(452.4,3762),(458.7,3773),(468.1,3762),(473.4,3686),(479.7,3510),(486,3467),(491.2,3445),(496.4,3510),(503.8,3609),(515.3,3817),(521.6,4102),(532.2,4260),(541.4,4390),(557.9,4619),(568,4743),(574.3,4762),(579.8,4814),(586.2,4800),(590.8,4791),(596.2,4810)]
ma_black = [(222.7,2596),(236.4,2581),(243.3,2587),(250.1,2653),(255.6,2730),(260.2,2787),(263.8,2863),(269.3,2978),(280.3,3168),(287.6,3273),(296.7,3369),(305.8,3426),(316.8,3493),(324.1,3502),(344.6,3531),(349.7,3569),(360.6,3636),(369.7,3693),(378.9,3712),(389.3,3722),(403.3,3692),(416.8,3664),(425.2,3631),(434.6,3620),(443,3642),(453.5,3675),(471.3,3681),(479.7,3598),(490.2,3521),(500.6,3576),(517.4,3708),(524.7,3839),(534.2,3981),(542.6,4047),(555.1,4189),(563.5,4288),(570.7,4333),(578,4400),(588,4419),(596.7,4457)]
ma_grey = [(445,3335),(458.7,3379),(469.2,3379),(479.7,3346),(487,3335),(495.4,3346),(506.9,3401),(519.5,3467),(532,3609),(542.6,3664),(556.2,3773),(570.7,3856),(584,3920),(596.6,3972)]

# thin lagging part in front of the first cloud
lag_line = [(51,3368),(54.8,3374),(57,3435),(57.8,3569),(59.3,3502),(60.9,3416),(62.1,3515),(64.8,3559),(65.8,3630),(68,3664),(70.3,3664),(71,3626),(73,3626),(74,3712),(75,3763),(76,3729)]

cloud_top = [(76,3683),(79.5,3550),(81,3416),(82.6,3283),(86,3279),(88,3321),(90.4,3378),(92,3393),(101,3393),(101.5,3359),(113,3355),(114,3283),(119,3283),(119.5,3235),(122,3235),(125,3092),(126,2910),(128,2882),(131,2900),(132.3,2911),(136.9,2968),(138.2,3006),(145.5,2987),(148.3,2882),(149.7,2730),(160,2720),(161,2558),(178,2554),(188,2554),(188.5,2586),(195.3,2596),(198,2577),(200.8,2558),(205.4,2596),(208.6,2710),(213.6,2730),(218.6,2768),(221.8,2825),(223.6,2834),(231.8,2844),(234.6,2882),(237.3,2870),(241.9,2802),(246.4,2787),(247,2739),(268.4,2739),(269.3,2863),(271,3335),(275.2,3365),(275.7,3935),(279,4246),(284,4285),(285.1,4180),(287.4,4218),(287.6,4428),(291.2,4456),(293.5,4466),(294.4,4771),(295.8,5086),(301,5099),(303,4999),(306.7,5019),(309.5,4962),(312.2,5124),(314.5,5065),(317.7,4943),(320.4,4771),(321,4733),(321.3,4847),(324,4876),(325.5,4895),(330,4895),(331,4861),(341.4,4861),(345,4819),(345.5,4437),(350.1,4418),(350.5,4256),(355.7,4256),(357.5,4180),(362,4170),(363.5,4046),(369.7,4036),(370.7,3941),(374.3,4218),(376.7,4200),(379.5,4418),(381.6,4428),(383,4325),(392,4315),(397,4479),(399,4387),(402,4152),(403.3,4254),(406.3,4255),(416.8,4259),(421.5,4354),(424.6,4211),(425.7,4051),(428.8,4051),(432.5,3981),(433.8,3927),(444.6,3927),(445.6,3686),(452.4,3620),(454.5,3543),(458.5,3543),(458.7,3664),(462.9,3795),(466,3817),(468.1,3894),(469.7,3883),(470,3813),(474.4,3821),(477.6,3861),(480.7,4019),(483.9,4019),(487.5,3981),(488.6,3839),(490.7,3773),(497,3773),(497.5,3620),(499,3401),(499.1,3379),(504.3,3270),(517.4,3270),(517.9,3368),(521.6,3686),(525.6,4032),(536,4343),(542.6,4376),(543,4803),(544,5153),(552.8,5172),(553.5,5544),(556,5516),(560.6,5363),(569,5210),(569.8,5334),(572.5,5316),(578.5,5306),(579.8,5363),(585.3,5386),(589.4,5464),(591.2,5430),(594,5430),(595.8,5449),(597.2,5344),(599,5334),(600.4,5373),(604.5,5382),(605.2,5315),(606.8,5268),(607.2,5172),(609,5144),(620.5,5144),(621,5210),(621.4,5210)]
cloud_bottom = [(76,3216),(79.5,3222),(81,3244),(82.6,3273),(86,3130),(88,3054),(90.4,2949),(92,2930),(93,2930),(97,2882),(100.5,2777),(105,2649),(109.6,2624),(113,2710),(118,2758),(122,2853),(125.5,2900),(126,2910),(127.5,2855),(129,2810),(130.7,2767),(132.3,2758),(136.9,2768),(138.2,2825),(140.5,2844),(148.3,2844),(149.7,2663),(153.3,2587),(159.7,2577),(161,2319),(166,2272),(170.2,2176),(178,2186),(178.4,2348),(184.4,2377),(188,2415),(188.5,2491),(188.9,2443),(195.3,2443),(195.8,2396),(198,2386),(208.6,2386),(209,2424),(213.6,2424),(215,2500),(218.6,2504),(221.8,2504),(223.6,2558),(226,2634),(231.8,2682),(237.3,2806),(241.9,2758),(246.4,2739),(248.3,2653),(253.8,2596),(260.2,2596),(268.4,2581),(269.3,2863),(271,3320),(275.2,3330),(275.7,3890),(287.4,3890),(287.6,4036),(293.5,4036),(294.4,4132),(306.7,4132),(312,4141),(314.5,4190),(318,4218),(320.4,4218),(321,4580),(321.3,4830),(324,4657),(325.5,4599),(330,4485),(331,4304),(335,4304),(337.3,4237),(341.4,4199),(345,4141),(345.5,4065),(347.4,3874),(350.6,3760),(351.4,3693),(355.7,3683),(358.3,3626),(360.6,3626),(362.5,3700),(369.7,3607),(370.7,3941),(374.3,4200),(376.7,4142),(379.5,4142),(402,4142),(403.3,4121),(406.3,4102),(411.5,4010),(416.8,4010),(418.9,3861),(423.6,3708),(428.3,3489),(432,3445),(437.7,3401),(446,3346),(450.3,3302),(451.4,3469),(458.7,3434),(459.8,3664),(464,3784),(466,3790),(471.3,3751),(479.7,3740),(489.1,3773),(497,3760),(497.5,3620),(499,3401),(499.1,3204),(502.2,3171),(504.8,3051),(506.9,2832),(509.5,2744),(511.6,2875),(515.3,2853),(516.8,3018),(517.4,3281),(521.6,3281),(522.1,3462),(526.3,3462),(526.8,3613),(542.6,3613),(543.6,4058),(544.6,4189),(555.1,4189),(558.3,4277),(561,4386),(562.5,4573),(564.6,4627),(568,4759),(569,4810),(569.4,5010),(576.2,5020),(578,5287),(591.7,5287),(594,5401),(596.7,5382),(598.1,5315),(604.7,5306),(607.2,5020),(611.8,4886),(614,4781),(616.3,4781),(619,4886),(620,5134),(621.4,5134)]

# ---- background sessions (rising phases over the pale blue span)
span_start, span_end = 4.9, 597
pink_start = [4.9,23.8,63.6,74.5,107.4,128.2,149,184.1,230.7,240.8,260.5,306.6,325.2,330.4,392,409,425.2,433.7,451.8,482.7,501.6,542.2,562.2,575.1,591.2]
pink_end = [22.7,33.4,71.5,96.4,115.1,134.2,167.1,211,237.8,255.6,278.6,312.3,326.3,352.9,394,420.8,428.5,444.7,459.7,499.5,532.3,556.2,569.3,579.2,597]

month_sessions = [0,19,39,58,80,101,118,139,161,180,202,219,239,261,282,301,324,345,363,384,405,425,445,465,487,507,525,548,570,590]
month_labels = ['2019/04','05','06','07','08','09','10','11','12','2020/01','02','03','04','05','06','07','08','09','10','11','12','2021/01','02','03','04','05','06','07','08','09']
levels = [5005,4381,3696,3376,3166]
level_labels = ['5,005','4,381','3,696','3,376','3,166']

W, H = 2374, 1077
RED, BLUE = '#E01B10', '#1F5DBE'
GRID = '#D4D4D4'
PANEL = '#D5E0EF'
fig = plt.figure(figsize=(W/100, H/100), dpi=100, facecolor='white')

def box(x0, y0, x1, y1, **kw):
    fig.add_artist(Rectangle((x0/W, 1-y1/H), (x1-x0)/W, (y1-y0)/H, transform=fig.transFigure, **kw))

def ftext(x, y, s, **kw):
    kw.setdefault('va', 'center')
    fig.text(x/W, 1-y/H, s, **kw)

def knots(pairs):
    return np.array(pairs, float).T

box(0, 0, 4, H, fc='#F6F6F6', ec='none', zorder=-2)
box(4, 0, 5, H, fc='#A8A8A8', ec='none', zorder=-2)
box(10, 0, 16, H, fc='#EDEDED', ec='none', zorder=-2)
box(2319, 0, W, H, fc=PANEL, ec='none', zorder=-2)
box(17, 1072, W, H, fc=PANEL, ec='none', zorder=-2)

ax = fig.add_axes([17/W, 1-847/H, 2302/W, 847/H])
vax = fig.add_axes([17/W, 1-1072/H, 2302/W, 225/H])
XMAX = 2302/3.65
ax.set_xlim(0, XMAX); vax.set_xlim(0, XMAX)
ax.set_ylim(1449, 6298); vax.set_ylim(-833, 93333)

candles = np.array(apr19+may19+jun19+jul19+aug19+sep19+oct19+nov19+dec19+jan20+feb20+mar20+apr20+may20+jun20+jul20+aug20+sep20+oct20+nov20+dec20+jan21+feb21+mar21+apr21+may21+jun21+jul21+aug21+sep21, float)
opens, closes, highs, lows = candles.T
x = np.arange(len(opens))

def sma(values, n):
    return np.arange(n-1, len(values)), np.convolve(values, np.ones(n)/n, 'valid')

for a in (ax, vax):
    a.axvspan(span_start, span_end, fc='#E3F6FF', ec='none', zorder=0)
    for s0, s1 in zip(pink_start, pink_end):
        a.axvspan(s0, s1, fc='#FFE4DC', ec='none', zorder=0.1)
    for m in month_sessions[1:]:
        a.axvline(m, color=GRID, lw=1.1, zorder=1)
    for sp in a.spines.values():
        sp.set_color('#8C8C8C'); sp.set_linewidth(1.2)
    a.spines['top'].set_visible(False)
    a.yaxis.tick_right()
    a.tick_params(axis='y', which='major', length=6, width=1, color='#8C8C8C', labelcolor='#444444', labelsize=8.6, pad=1.5)
    a.tick_params(axis='y', which='minor', length=3, width=1, color='#8C8C8C')

price_ticks = np.arange(1500, 6001, 500)
ax.set_yticks(price_ticks)
ax.set_yticklabels([f'{p:,}' for p in price_ticks])
ax.set_yticks(np.arange(1500, 6201, 100), minor=True)
for p in price_ticks:
    ax.axhline(p, color=GRID, lw=1.1, zorder=1)
ax.set_xticks([])

vol_ticks = np.arange(10000, 80001, 10000)
vax.set_yticks(vol_ticks)
vax.set_yticklabels([f'{v:,}K' for v in vol_ticks])
vax.set_yticks(np.arange(5000, 90001, 5000), minor=True)
for v in vol_ticks:
    vax.axhline(v, color=GRID, lw=1.1, zorder=1)
vax.axhline(0, color=GRID, lw=1.1, zorder=1)
vax.set_xticks(month_sessions)
vax.set_xticklabels(month_labels, ha='left', fontsize=8.6, color='#333333')
vax.tick_params(axis='x', length=0, pad=1.5)

# cloud
ts, tp = knots(cloud_top)
bs, bp = knots(cloud_bottom)
ax.fill(np.r_[ts, bs[::-1]], np.r_[tp, bp[::-1]], fc='#3A66FA', ec='#3A66FA', lw=0.8, zorder=2)
ax.plot(*knots(lag_line), color='#3566DC', lw=1.2, zorder=2)

# candles
up = closes >= opens
colors = np.where(up, RED, BLUE)
ax.vlines(x, lows, highs, colors=colors, lw=0.75, zorder=3)
heights = np.maximum(np.abs(closes-opens), 12)
ax.bar(x, heights, bottom=np.minimum(opens, closes), width=0.8, color=colors, lw=0, zorder=3)

# moving averages and bands
ax.plot(*sma(closes, 5), color='#D8201A', lw=0.75, zorder=4)
ax.plot(*sma(closes, 15), color='#E89A28', lw=0.75, zorder=4)
ax.plot(*knots(ma_yellow), color='#FFF22E', lw=2.4, zorder=4)
ax.plot(*knots(ma_green), color='#2F8A45', lw=0.8, zorder=4)
ax.plot(*knots(ma_navy), color='#16169C', lw=0.8, zorder=4)
ax.plot(*knots(ma_grey), color='#8A8A8A', lw=2.2, zorder=4)
ax.plot(*knots(ma_black), color='#000000', lw=3.0, zorder=4.2)
ax.plot(*knots(bb_upper), color='#85305F', lw=1.5, zorder=4.5)
ax.plot(*knots(bb_lower), color='#85305F', lw=1.5, zorder=4.5)

# horizontal levels
for lv, lab in zip(levels, level_labels):
    col = '#C42028' if lv == 5005 else '#E8121A'
    ax.axhline(lv, color=col, lw=2.0, zorder=5)
    ax.annotate(lab, (0, lv), xytext=(1.5, 2.2), textcoords='offset points', color='#C8281E', fontsize=8.4, va='bottom', zorder=6)

# annotations
TXT = '#333333'
ax.text(7.9, 3333, '액면분할(-90,00%)', color=TXT, fontsize=8.4, va='center', zorder=6)
ax.plot([22, 22], [3187, 3281], color=RED, lw=0.8, zorder=6)
ax.plot([22], [3187], marker='v', ms=7, color=RED, zorder=6)
ax.text(168, 2680, '배당락(0,00%)', color=TXT, fontsize=8.4, va='center', zorder=6)
ax.plot([178.4], [2537], marker='v', ms=6, color=RED, zorder=6)
ax.text(412.6, 3447, '배당락(0,00%)', color=TXT, fontsize=8.4, va='center', zorder=6)
ax.plot([423.3], [3310], marker='v', ms=6, color=RED, zorder=6)
ax.text(131.8, 1833, '최저 1,820 (10/30)', color='#14149A', fontsize=8.4, va='center', ha='right', zorder=6)
ax.annotate('', xy=(137.6, 1833), xytext=(133.2, 1833), arrowprops=dict(arrowstyle='-|>', color='#14149A', lw=0.8, shrinkA=0, shrinkB=0, mutation_scale=8), zorder=6)
ax.text(515, 6223, '최고 6,240 (05/25)', color='#C8281E', fontsize=8.4, va='center', ha='right', zorder=6)
ax.annotate('', xy=(520.4, 6223), xytext=(516.5, 6223), arrowprops=dict(arrowstyle='-|>', color=RED, lw=0.8, shrinkA=0, shrinkB=0, mutation_scale=8), zorder=6)

# ichimoku legend
legend_rows = [('전환선 9: 5,275', '#2E8B7B', 787), ('기준선 26: 5,138', '#777777', 799), ('후행스팬 26: 5,200', '#9030B0', 811),
               ('선행스팬1 9,26: 5,206', '#3A6BD0', 823), ('선행스팬2 52,26: 5,138', '#3A6BD0', 835)]
for s, c, yy in legend_rows:
    ftext(2314, yy, s, color=c, fontsize=8.4, ha='right', zorder=6)

# volume
vol = np.array(volume_k, float)
vx = np.arange(len(vol))
vcol = np.where(np.r_[True, vol[1:] >= vol[:-1]], RED, BLUE)
vax.bar(vx, vol, width=0.8, color=vcol, lw=0, zorder=3)
vax.plot(*sma(vol, 5), color='#D030B0', lw=0.8, zorder=4)
vax.plot(*sma(vol, 20), color='#EBA020', lw=0.9, zorder=4)
vax.plot(*sma(vol, 60), color='#2E8B40', lw=1.0, zorder=4)
vax.plot(*sma(vol, 120), color='#777777', lw=1.0, zorder=4)

# panel headers and tags
box(2324, 185, W, 198, fc=RED, ec='none', zorder=6)
ftext(2328, 191.5, '5,200', color='white', fontsize=8.6, zorder=7)
ftext(2328, 203, '1,17%', color='#C8281E', fontsize=8.6, zorder=7)
box(2324, 1046, W, 1059, fc='#1F5FC4', ec='none', zorder=6)
ftext(2328, 1052.5, '2,679K', color='white', fontsize=8.6, zorder=7)
ftext(2328, 1064, '7,22%', color='#1F5FC4', fontsize=8.6, zorder=7)
ftext(2320, 3, 'HC:-16,67', color='#2F66C8', fontsize=8.6, zorder=7)

box(20.5, 853.5, 25, 858, fc='#999999', ec='#666666', lw=0.6, zorder=6)
ftext(31, 856, '거래량', color='#3F8F8F', fontsize=8.6, zorder=7)
ftext(75, 856, '단순 5', color='#D030B0', fontsize=8.6, zorder=7)
ftext(118, 856, '20', color='#EBA020', fontsize=8.6, zorder=7)
ftext(138, 856, '60', color='#2E8B40', fontsize=8.6, zorder=7)
ftext(158, 856, '120', color='#777777', fontsize=8.6, zorder=7)
ftext(21, 869, '2,678,837주(7,22%)', color='#333333', fontsize=8.4, zorder=7)

# table icon
box(23, 5, 35, 22, fc='#D8D8D8', ec='black', lw=1.0, zorder=7)
for yy in (10, 14, 18):
    box(24, yy, 34, yy+0.6, fc='#777777', ec='none', zorder=8)
for xx in (26.5, 29, 31.5):
    box(xx, 6, xx+0.6, 21, fc='#777777', ec='none', zorder=8)

fig.savefig('out.png', dpi=100)
